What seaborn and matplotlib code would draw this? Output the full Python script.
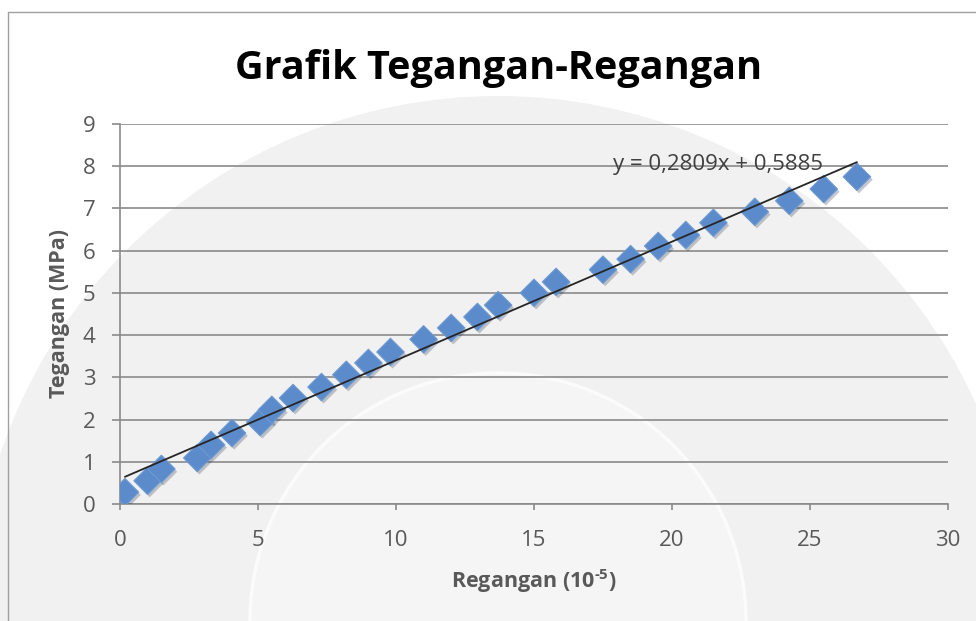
import matplotlib
matplotlib.use("Agg")
import matplotlib.pyplot as plt
import matplotlib.patheffects as pe
from matplotlib.patches import Circle
from matplotlib.lines import Line2D
import seaborn as sns
import pandas as pd

# strain (x 10^-5) and stress (MPa)
regangan = [0.18, 1.0, 1.5, 2.8, 3.3, 4.06, 5.08, 5.5, 6.27, 7.3,
            8.2, 9.0, 9.8, 11.0, 12.0, 12.95, 13.7, 15.0, 15.8, 17.5,
            18.5, 19.5, 20.5, 21.5, 23.0, 24.25, 25.5, 26.7]
tegangan = [0.28, 0.55, 0.83, 1.09, 1.40, 1.68, 1.94, 2.23, 2.51, 2.77,
            3.06, 3.34, 3.60, 3.90, 4.17, 4.43, 4.71, 5.00, 5.26, 5.55,
            5.80, 6.11, 6.37, 6.66, 6.92, 7.18, 7.46, 7.75]
x_ticks = [0, 5, 10, 15, 20, 25, 30]
y_ticks = list(range(10))
title = "Grafik Tegangan-Regangan"
x_label = r"Regangan (10$^{\text{-}5}$)"
y_label = "Tegangan (MPa)"
trend_label = "y = 0,2809x + 0,5885"

df = pd.DataFrame({"regangan": regangan, "tegangan": tegangan})

sns.set_style("white")
plt.rcParams["font.family"] = ["Open Sans", "DejaVu Sans"]
plt.rcParams["mathtext.fontset"] = "custom"
plt.rcParams["mathtext.rm"] = "Open Sans:bold"
plt.rcParams["mathtext.it"] = "Open Sans:bold"
plt.rcParams["mathtext.bf"] = "Open Sans:bold"

W, H = 976, 621
fig = plt.figure(figsize=(W / 100, H / 100), dpi=100)

# faint watermark (university logo) behind the chart
wm = fig.add_axes([0, 0, 1, 1], zorder=0)
wm.set_xlim(0, W)
wm.set_ylim(H, 0)
wm.axis("off")
wm.add_patch(Circle((498, 621), 525, facecolor="#f1f1f1", edgecolor="none"))
wm.add_patch(Circle((498, 621), 248, facecolor="#f5f5f5", edgecolor="#fbfbfb", lw=2.5))

# chart border (top and left visible)
fig.add_artist(Line2D([8 / W, 1], [1 - 12 / H, 1 - 12 / H], color="#a0a0a0", lw=1))
fig.add_artist(Line2D([8 / W, 8 / W], [0, 1 - 12 / H], color="#a0a0a0", lw=1))

ax = fig.add_axes([120 / W, 1 - 504 / H, 828 / W, 380 / H], zorder=2)
ax.patch.set_alpha(0)

sns.regplot(data=df, x="regangan", y="tegangan", ax=ax, ci=None, marker="D",
            scatter_kws=dict(s=196, color="#5B8BCB", edgecolor="#6E9AD3",
                             linewidths=0.8, alpha=1, zorder=3,
                             path_effects=[pe.SimplePatchShadow(offset=(1.5, -2), alpha=0.25),
                                           pe.Normal()]),
            line_kws=dict(color="#262626", lw=1.3, zorder=4))

ax.set_xlim(0, 30)
ax.set_ylim(0, 9)
ax.set_xticks(x_ticks)
ax.set_yticks(y_ticks)
ax.yaxis.grid(True, color="#8a8a8a", lw=1.2)
ax.xaxis.grid(False)
ax.set_axisbelow(True)
for side in ["top", "right"]:
    ax.spines[side].set_visible(False)
for side in ["left", "bottom"]:
    ax.spines[side].set_color("#8a8a8a")
    ax.spines[side].set_linewidth(1.2)
ax.tick_params(axis="x", direction="out", length=4.5, width=1.2, color="#8a8a8a",
               pad=14, labelsize=16, labelcolor="#595959", bottom=True)
ax.tick_params(axis="y", direction="out", length=5.5, width=1.2, color="#8a8a8a",
               pad=12, labelsize=16, labelcolor="#595959", left=True)

ax.set_xlabel(x_label, fontsize=15.5, fontweight="bold", color="#595959")
ax.set_ylabel(y_label, fontsize=15.5, fontweight="bold", color="#595959")
ax.xaxis.set_label_coords(0.5, -0.165)
ax.yaxis.set_label_coords(-0.06, 0.5)

ax.text(17.85, 8.03, trend_label, fontsize=16, color="#404040", ha="left", va="center", zorder=5)

fig.text(499 / W, 1 - 69 / H, title, fontsize=28.5, fontweight="bold", color="black",
         ha="center", va="center")

fig.savefig("out.png", dpi=100)
